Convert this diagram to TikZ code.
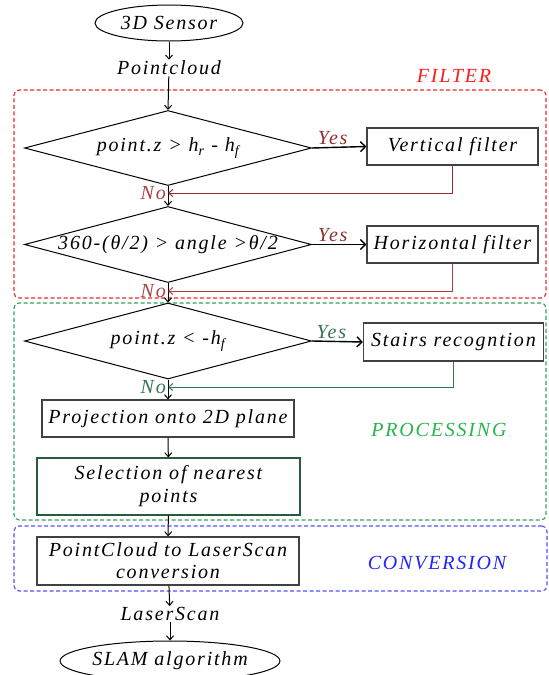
\documentclass[tikz,border=0pt]{standalone}
\usepackage{fontspec}
\setmainfont{Liberation Serif}[LetterSpace=9]
\usetikzlibrary{shapes.geometric,arrows.meta}
\definecolor{fred}{RGB}{240,40,40}
\definecolor{tred}{RGB}{255,25,25}
\definecolor{dred}{RGB}{145,45,45}
\definecolor{lred}{RGB}{170,65,65}
\definecolor{fgreen}{RGB}{50,160,95}
\definecolor{pgreen}{RGB}{40,180,75}
\definecolor{dgreen}{RGB}{50,115,80}
\definecolor{bgreen}{RGB}{40,90,60}
\definecolor{fblue}{RGB}{80,80,250}
\definecolor{cblue}{RGB}{35,35,250}
\definecolor{boxgray}{RGB}{65,65,65}
\begin{document}
\begin{tikzpicture}[x=1pt,y=-1pt,
  every node/.style={font=\itshape\fontsize{20}{21}\selectfont},
  grp/.style={draw, rectangle, rounded corners=5pt, dash pattern=on 4pt off 2.5pt, line width=1.1pt, inner sep=0pt},
  lbl/.style={inner sep=0pt},
  ell/.style={draw, ellipse, line width=1pt, inner sep=0pt},
  plain/.style={inner sep=1pt},
  dia/.style={draw, diamond, aspect=3.8, line width=1pt, inner sep=0pt},
  box/.style={draw=boxgray, rectangle, line width=1.2pt, inner sep=0pt},
  conn/.style={line width=1pt, -{Straight Barb[length=4pt,width=7pt]}},
  yesarr/.style={line width=1.4pt, -{Straight Barb[length=5pt,width=10pt,line width=1.4pt]}},
  yeslbl/.style={above, inner sep=2pt, pos=0.38},
  nolbl/.style={left, inner sep=2pt}
]
\useasboundingbox (0,0) rectangle (549,675);

% group frames
\node[grp, draw=fred, minimum width=532pt, minimum height=208pt] (filter) at (280,194) {};
\node[grp, draw=fgreen, minimum width=532pt, minimum height=217pt] (processing) at (280,411.5) {};
\node[grp, draw=fblue, minimum width=533pt, minimum height=65pt] (conversion) at (280.5,558.5) {};
\node[lbl, text=tred] (filterlbl) at (454,76) {FILTER};
\node[lbl, text=pgreen] (proclbl) at (439,430) {PROCESSING};
\node[lbl, text=cblue] (convlbl) at (437,563) {CONVERSION};

% nodes
\node[ell, minimum width=148pt, minimum height=36pt] (sensor) at (169,23) {3D Sensor};
\node[plain] (pc) at (169,68) {Pointcloud};
\node[dia, minimum width=287pt, minimum height=75pt] (d1) at (168,148)
  {\makebox[0pt]{point.z > h\textsubscript{r} - h\textsubscript{f}}};
\node[box, minimum width=171pt, minimum height=37pt] (vf) at (452.5,146.5) {Vertical filter};
\node[dia, minimum width=287pt, minimum height=76pt] (d2) at (168,244.5)
  {\makebox[0pt]{360-(θ/2) > angle >θ/2}};
\node[box, minimum width=171pt, minimum height=37pt] (hf) at (452.5,244.5) {Horizontal filter};
\node[dia, minimum width=287pt, minimum height=76pt] (d3) at (168,341)
  {\makebox[0pt]{point.z < -h\textsubscript{f}}};
\node[box, minimum width=180pt, minimum height=38pt] (sr) at (453.5,342) {Stairs recogntion};
\node[box, minimum width=252pt, minimum height=37pt] (proj) at (168,418.5) {Projection onto 2D plane};
\node[box, draw=bgreen, minimum width=263pt, minimum height=57pt, align=center] (sel) at (168.5,486.5)
  {Selection of nearest\\[2pt] points};
\node[box, minimum width=262pt, minimum height=48pt, align=center] (conv) at (168,561)
  {PointCloud to LaserScan\\[1pt] conversion};
\node[plain] (ls) at (170,614) {LaserScan};
\node[ell, minimum width=199pt, minimum height=40pt] (slam) at (170,661) {SLAM algorithm};

% junction points
\coordinate (n1) at (168,193);
\coordinate (n2) at (168,291);
\coordinate (n3) at (168,387);

% main flow
\draw[conn] (sensor) -- (pc);
\draw[conn] (pc) -- (d1.north);
\draw[conn] (d1.south) -- (d2.north);
\draw[conn] (d2.south) -- (d3.north);
\draw[conn] (d3.south) -- (proj.north);
\draw[conn] (proj) -- (sel);
\draw[conn] (sel) -- (conv);
\draw[conn] (conv) -- (ls);
\draw[conn] (ls) -- (slam);

% yes branches
\draw[yesarr] (d1.east) -- node[yeslbl, text=dred] (yes1) {Yes} (vf.west);
\draw[yesarr] (d2.east) -- node[yeslbl, text=dred] (yes2) {Yes} (hf.west);
\draw[yesarr] (d3.east) -- node[yeslbl, text=dgreen] (yes3) {Yes} (sr.west);

% returns
\draw[conn, dred] (vf.south) |- (n1);
\draw[conn, lred] (hf.south) |- (n2);
\draw[conn, dgreen] (sr.south) |- (n3);
\node[nolbl, text=lred] (no1) at (n1) {No};
\node[nolbl, text=lred] (no2) at (n2) {No};
\node[nolbl, text=dgreen] (no3) at (n3) {No};
\end{tikzpicture}
\end{document}
